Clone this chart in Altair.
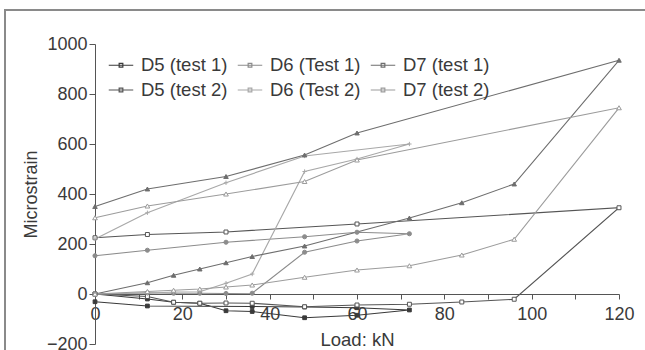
import altair as alt
import pandas as pd

# ---- data (load in kN, strain in microstrain), in test order ----
series_names = ["D5 (test 1)", "D5 (test 2)", "D6 (Test 1)",
                "D6 (Test 2)", "D7 (test 1)", "D7 (test 2)"]

d5_t1_load = [0, 12, 18, 24, 30, 36, 48, 60, 72, 60, 48, 36, 12, 0]
d5_t1_strain = [0, -20, -33, -37, -67, -70, -95, -85, -64, -55, -52, -50, -48, -31]

d5_t2_load = [0, 12, 18, 24, 30, 36, 48, 60, 72, 84, 96, 120, 60, 30, 12, 0]
d5_t2_strain = [0, -10, -33, -37, -36, -37, -51, -44, -41, -32, -21, 345, 280, 248, 238, 225]

d6_t1_load = [0, 12, 18, 24, 30, 36, 48, 60, 72, 60, 48, 30, 12, 0]
d6_t1_strain = [0, 5, 3, 3, 2, 3, 167, 212, 241, 247, 229, 207, 175, 153]

d6_t2_load = [0, 12, 18, 24, 30, 36, 48, 60, 72, 48, 30, 12, 0]
d6_t2_strain = [0, 3, 8, 9, 43, 80, 490, 540, 600, 552, 445, 325, 220]

d7_t1_load = [0, 12, 18, 24, 30, 36, 48, 72, 84, 96, 120, 60, 48, 30, 12, 0]
d7_t1_strain = [0, 45, 75, 100, 125, 150, 192, 304, 365, 440, 935, 644, 556, 470, 420, 350]

d7_t2_load = [0, 12, 18, 24, 30, 36, 48, 60, 72, 84, 96, 120, 60, 48, 30, 12, 0]
d7_t2_strain = [0, 10, 15, 20, 28, 36, 67, 96, 113, 156, 219, 745, 536, 450, 400, 352, 305]

x_ticks = list(range(0, 121, 5))
y_ticks = list(range(-200, 1001, 50))

# ---- styling ----
line_colors = ["#3a3a3a", "#555555", "#8c8c8c", "#a8a8a8", "#6e6e6e", "#9c9c9c"]
fill_colors = ["#3a3a3a", "#ffffff", "#8c8c8c", "#a8a8a8", "#6e6e6e", "#ffffff"]
shapes = ["square", "square", "circle", "M-1,0H1M0,-1V1", "triangle-up", "triangle-up"]
sizes = [14, 22, 45, 20, 18, 18]

pairs = [(d5_t1_load, d5_t1_strain), (d5_t2_load, d5_t2_strain),
         (d6_t1_load, d6_t1_strain), (d6_t2_load, d6_t2_strain),
         (d7_t1_load, d7_t1_strain), (d7_t2_load, d7_t2_strain)]
rows = []
for k, (name, (ld, st)) in enumerate(zip(series_names, pairs)):
    for i, (a, b) in enumerate(zip(ld, st)):
        rows.append({"series": name, "marker": k, "load": a, "strain": b, "idx": i})
df = pd.DataFrame(rows)
marker_ids = list(range(len(series_names)))

FONT = "Liberation Sans"
TXT = "#3a3a3a"

x_enc = alt.X("load:Q", scale=alt.Scale(domain=[0, 120], nice=False, zero=False),
              axis=alt.Axis(values=x_ticks, format="d",
                            labelExpr="datum.value % 20 === 0 ? datum.label : ''",
                            offset=-50, tickSize=5, labelPadding=6,
                            labelFontSize=18, labelFont=FONT, labelColor=TXT,
                            labelOverlap=False, labelFlush=False,
                            title="Load: kN", titleFontSize=18.5, titleFont=FONT,
                            titleColor=TXT, titleFontWeight="normal", titlePadding=7,
                            domainColor="#555555", tickColor="#555555", grid=False))
y_enc = alt.Y("strain:Q", scale=alt.Scale(domain=[-200, 1000], nice=False, zero=False),
              axis=alt.Axis(values=y_ticks, format="d",
                            labelExpr="datum.value % 200 === 0 ? datum.label : ''",
                            tickSize={"condition": {"test": "datum.value % 200 === 0", "value": 6}, "value": 3},
                            labelPadding=2, labelFontSize=18, labelFont=FONT,
                            labelColor=TXT, labelOverlap=False, labelFlush=False,
                            title="Microstrain", titleFontSize=18, titleFont=FONT,
                            titleColor=TXT, titleFontWeight="normal", titlePadding=6,
                            domainColor="#555555", tickColor="#555555", grid=False))

base = alt.Chart(df)

lines = base.mark_line(strokeWidth=1.15).encode(
    x=x_enc, y=y_enc,
    order="idx:Q",
    color=alt.Color("series:N",
                    scale=alt.Scale(domain=series_names, range=line_colors),
                    legend=alt.Legend(title=None, orient="none", legendX=13, legendY=8,
                                      columns=3, columnPadding=7, rowPadding=2,
                                      symbolType="M-1,0H1M-0.15,-0.15H0.15V0.15H-0.15Z",
                                      symbolSize=600, symbolStrokeWidth=1.2,
                                      labelFontSize=18.5, labelFont=FONT, labelColor=TXT,
                                      labelOffset=7, labelLimit=200)),
)

points = base.mark_point(strokeWidth=1, opacity=1).encode(
    x="load:Q", y="strain:Q",
    stroke=alt.Stroke("marker:N", scale=alt.Scale(domain=marker_ids, range=line_colors), legend=None),
    fill=alt.Fill("marker:N", scale=alt.Scale(domain=marker_ids, range=fill_colors), legend=None),
    shape=alt.Shape("marker:N", scale=alt.Scale(domain=marker_ids, range=shapes), legend=None),
    size=alt.Size("marker:N", scale=alt.Scale(domain=marker_ids, range=sizes), legend=None),
)

frame = alt.Chart(pd.DataFrame({"f": [0]})).mark_rect(
    fill="#ffffff", fillOpacity=0, stroke="#8a8a8a", strokeWidth=2
).encode(x=alt.value(-90), x2=alt.value(560), y=alt.value(-34), y2=alt.value(330))

chart = alt.layer(frame, lines, points).properties(
    width=524, height=300,
    autosize=alt.AutoSizeParams(type="none"),
    padding={"left": 95, "top": 44, "right": 26, "bottom": 6},
    background="white",
).configure_view(strokeWidth=0)

chart.save("out.html", embed_options={"renderer": "svg", "actions": False})
